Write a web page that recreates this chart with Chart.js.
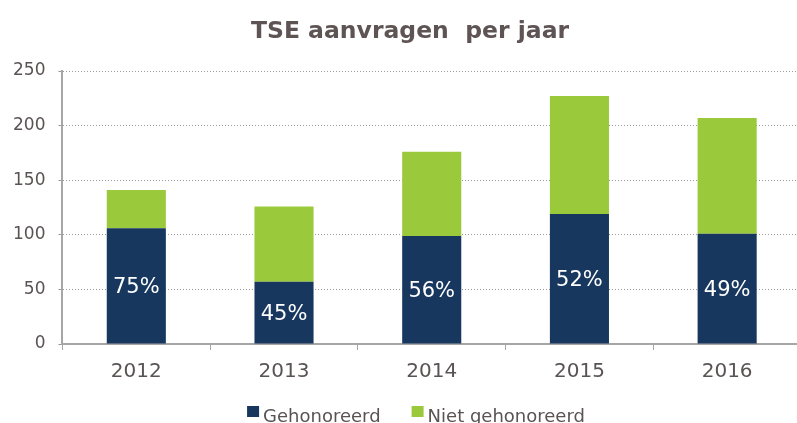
<!DOCTYPE html>
<html>
<head>
<meta charset="utf-8">
<script src="https://cdn.jsdelivr.net/npm/chart.js@4.4.1/dist/chart.umd.min.js"></script>
<style>
  html, body { margin: 0; padding: 0; background: #fff; overflow: hidden; }
  #wrap { width: 797px; height: 423px; overflow: hidden; }
</style>
</head>
<body>
<div id="wrap"><canvas id="tseChart" width="805" height="423"></canvas></div>
<script>
// data
const years = ['2012', '2013', '2014', '2015', '2016'];
const gehonoreerd = [106, 57, 99, 119, 101];
const nietGehonoreerd = [35, 69, 77, 108, 106];
const pctLabels = ['75%', '45%', '56%', '52%', '49%'];
const yTicks = [0, 50, 100, 150, 200, 250];
const chartTitle = 'TSE aanvragen  per jaar';

const textColor = '#5a5353';
const axisColor = '#a6a6a6';
const fontFamily = '"DejaVu Sans"';

// white percentage labels inside the dark bars
const pctLabelPlugin = {
  id: 'pctLabels',
  afterDatasetsDraw(chart) {
    const meta = chart.getDatasetMeta(0);
    const ctx = chart.ctx;
    ctx.save();
    ctx.fillStyle = '#ffffff';
    ctx.font = '21px ' + fontFamily;
    ctx.textAlign = 'center';
    ctx.textBaseline = 'middle';
    meta.data.forEach(function (bar, i) {
      ctx.fillText(pctLabels[i], bar.x, (bar.y + bar.base) / 2 + 2);
    });
    ctx.restore();
  }
};

// title and legend drawn by hand so they sit where the original has them
const titleLegendPlugin = {
  id: 'titleLegend',
  afterDraw(chart) {
    const ctx = chart.ctx;
    ctx.save();

    // title
    ctx.font = 'bold 23.5px ' + fontFamily;
    ctx.fillStyle = '#5F5454';
    ctx.textAlign = 'center';
    ctx.textBaseline = 'alphabetic';
    ctx.fillText(chartTitle, 410, 37.5);

    // legend
    const boxSize = 12;
    const boxGap = 4;
    const itemGap = 31;
    const baseline = 422;
    ctx.font = '18px ' + fontFamily;
    const items = chart.data.datasets.map(ds => ({
      text: ds.label,
      color: ds.backgroundColor,
      width: boxSize + boxGap + ctx.measureText(ds.label).width
    }));
    const total = items.reduce((s, it) => s + it.width, 0) + itemGap * (items.length - 1);
    let x = 416 - total / 2;
    ctx.textAlign = 'left';
    items.forEach(function (it) {
      ctx.fillStyle = it.color;
      ctx.fillRect(x, baseline - 16, boxSize, boxSize - 1);
      ctx.fillStyle = textColor;
      ctx.fillText(it.text, x + boxSize + boxGap, baseline);
      x += it.width + itemGap;
    });
    ctx.restore();
  }
};

function initializeChart() {
  const ctx = document.getElementById('tseChart').getContext('2d');
  new Chart(ctx, {
    type: 'bar',
    data: {
      labels: years,
      datasets: [
        {
          label: 'Gehonoreerd',
          data: gehonoreerd,
          backgroundColor: '#17375E',
          barPercentage: 0.4,
          categoryPercentage: 1.0
        },
        {
          label: 'Niet gehonoreerd',
          data: nietGehonoreerd,
          backgroundColor: '#9BC93C',
          barPercentage: 0.4,
          categoryPercentage: 1.0
        }
      ]
    },
    options: {
      responsive: false,
      animation: false,
      layout: { padding: { left: 0, right: 4, top: 71, bottom: 29 } },
      plugins: {
        title: { display: false },
        legend: { display: false },
        tooltip: { enabled: false }
      },
      scales: {
        x: {
          stacked: true,
          grid: {
            drawOnChartArea: false,
            offset: true,
            tickLength: 6,
            color: axisColor
          },
          border: { color: axisColor, width: 2 },
          ticks: {
            color: textColor,
            font: { family: fontFamily, size: 20 },
            padding: 10
          }
        },
        y: {
          stacked: true,
          min: 0,
          max: 250,
          afterBuildTicks: function (axis) {
            axis.ticks = yTicks.map(v => ({ value: v }));
          },
          grid: {
            color: '#9a9a9a',
            tickLength: 4,
            lineWidth: 1
          },
          border: { color: axisColor, width: 2, dash: [1, 2] },
          ticks: {
            color: textColor,
            font: { family: fontFamily, size: 17 },
            padding: 13
          }
        }
      }
    },
    plugins: [pctLabelPlugin, titleLegendPlugin]
  });
}

document.addEventListener('DOMContentLoaded', () => {
  initializeChart();
});
</script>
</body>
</html>
